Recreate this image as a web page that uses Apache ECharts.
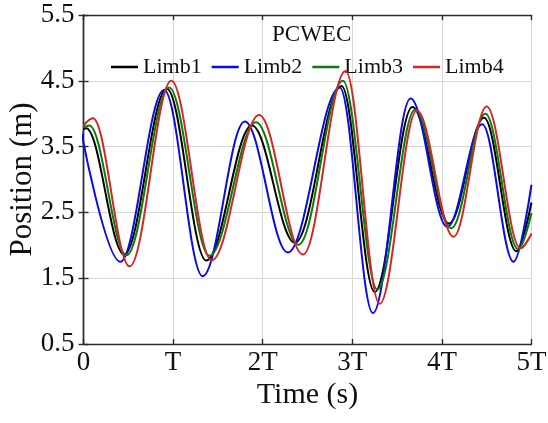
<!DOCTYPE html>
<html>
<head>
<meta charset="utf-8">
<script src="https://cdn.jsdelivr.net/npm/echarts@6/dist/echarts.min.js"></script>
<style>
html,body{margin:0;padding:0;background:#fff;}
#chart{width:548px;height:423px;}
</style>
</head>
<body>
<div id="chart"></div>
<script>
// Time in units of the period T; position in metres (extrema)
var limb1 = [[0,3.76],[0.03,3.78],[0.455,1.86],[0.93,4.38],[1.37,1.77],[1.88,3.82],[2.36,2.04],[2.88,4.42],[3.25,1.29],[3.67,4.10],[4.08,2.33],[4.47,3.94],[4.83,1.91],[5,2.65]];
var limb2 = [[-0.03,3.76],[0.41,1.75],[0.90,4.36],[1.33,1.53],[1.80,3.88],[2.28,1.89],[2.86,4.40],[3.23,0.97],[3.65,4.23],[4.06,2.28],[4.45,3.84],[4.80,1.75],[5,2.92]];
var limb3 = [[0,3.79],[0.065,3.82],[0.48,1.85],[0.955,4.40],[1.405,1.84],[1.925,3.87],[2.40,2.01],[2.895,4.50],[3.28,1.33],[3.70,4.06],[4.105,2.26],[4.485,4.00],[4.85,1.94],[5,2.49]];
var limb4 = [[0,3.82],[0.105,3.93],[0.515,1.68],[0.98,4.50],[1.43,1.77],[1.96,3.98],[2.45,1.86],[2.925,4.65],[3.305,1.11],[3.72,4.05],[4.13,2.13],[4.50,4.11],[4.875,1.955],[5,2.18]];
var seriesNames = ['Limb1','Limb2','Limb3','Limb4'];
var xTickLabels = ['0','T','2T','3T','4T','5T'];
var yTicks = [0.5,1.5,2.5,3.5,4.5,5.5];

var FONT = '"Liberation Serif","Times New Roman",serif';
var colors = ['#000000','#0a0ae6','#0a7a0a','#d42626'];
var dataAll = [limb1, limb2, limb3, limb4];

var chart = echarts.init(document.getElementById('chart'), null, {renderer:'canvas'});
var axisLineStyle = {color:'#2b2b2b', width:1.4};
var option = {
  animation:false,
  backgroundColor:'#ffffff',
  title:{
    text:'PCWEC', left:267, top:18,
    textStyle:{fontFamily:FONT, fontSize:23, fontWeight:'normal', color:'#111'}
  },
  legend:{
    data:seriesNames, left:106, top:51, orient:'horizontal',
    itemWidth:27, itemHeight:2.5, itemGap:10, icon:'rect',
    textStyle:{fontFamily:FONT, fontSize:22, color:'#111'}
  },
  grid:{left:83.5, right:16.5, top:15, bottom:79, containLabel:false, outerBoundsMode:'none'},
  xAxis:[{
    type:'value', min:0, max:5, interval:1,
    name:'Time (s)', nameLocation:'middle', nameGap:36, nameMoveOverlap:false,
    nameTextStyle:{fontFamily:FONT, fontSize:30, color:'#111'},
    axisLine:{show:true, lineStyle:axisLineStyle},
    axisTick:{show:true, inside:true, length:5, lineStyle:axisLineStyle},
    axisLabel:{fontFamily:FONT, fontSize:27, color:'#111', margin:5,
      formatter:function(v){ return xTickLabels[Math.round(v)]; }},
    splitLine:{show:true, lineStyle:{color:'#d6d6d6', width:1}}
  },{
    type:'value', position:'top', min:0, max:5, interval:1,
    axisLine:{show:true, lineStyle:axisLineStyle},
    axisTick:{show:true, inside:true, length:5, lineStyle:axisLineStyle},
    axisLabel:{show:false}, splitLine:{show:false}
  }],
  yAxis:[{
    type:'value', min:0.5, max:5.5,
    name:'Position (m)', nameLocation:'middle', nameGap:45, nameMoveOverlap:false,
    nameTextStyle:{fontFamily:FONT, fontSize:31, color:'#111'},
    axisLine:{show:true, lineStyle:axisLineStyle},
    axisTick:{show:true, inside:true, length:5, lineStyle:axisLineStyle, customValues:yTicks},
    axisLabel:{fontFamily:FONT, fontSize:27, color:'#111', margin:9, customValues:yTicks,
      formatter:function(v){ return v.toFixed(1); }},
    splitLine:{show:true, lineStyle:{color:'#d6d6d6', width:1}}
  },{
    type:'value', position:'right', min:0.5, max:5.5,
    axisLine:{show:true, lineStyle:axisLineStyle},
    axisTick:{show:true, inside:true, length:5, lineStyle:axisLineStyle, customValues:yTicks},
    axisLabel:{show:false}, splitLine:{show:false}
  }],
  series: seriesNames.map(function(n,i){
    return {
      name:n, type:'line', data:dataAll[i], xAxisIndex:0, yAxisIndex:0,
      smooth:0.36, smoothMonotone:'x', showSymbol:false, symbol:'none',
      color:colors[i], lineStyle:{width:2, color:colors[i]}, clip:true, z:2+i
    };
  })
};
chart.setOption(option);
</script>
</body>
</html>
